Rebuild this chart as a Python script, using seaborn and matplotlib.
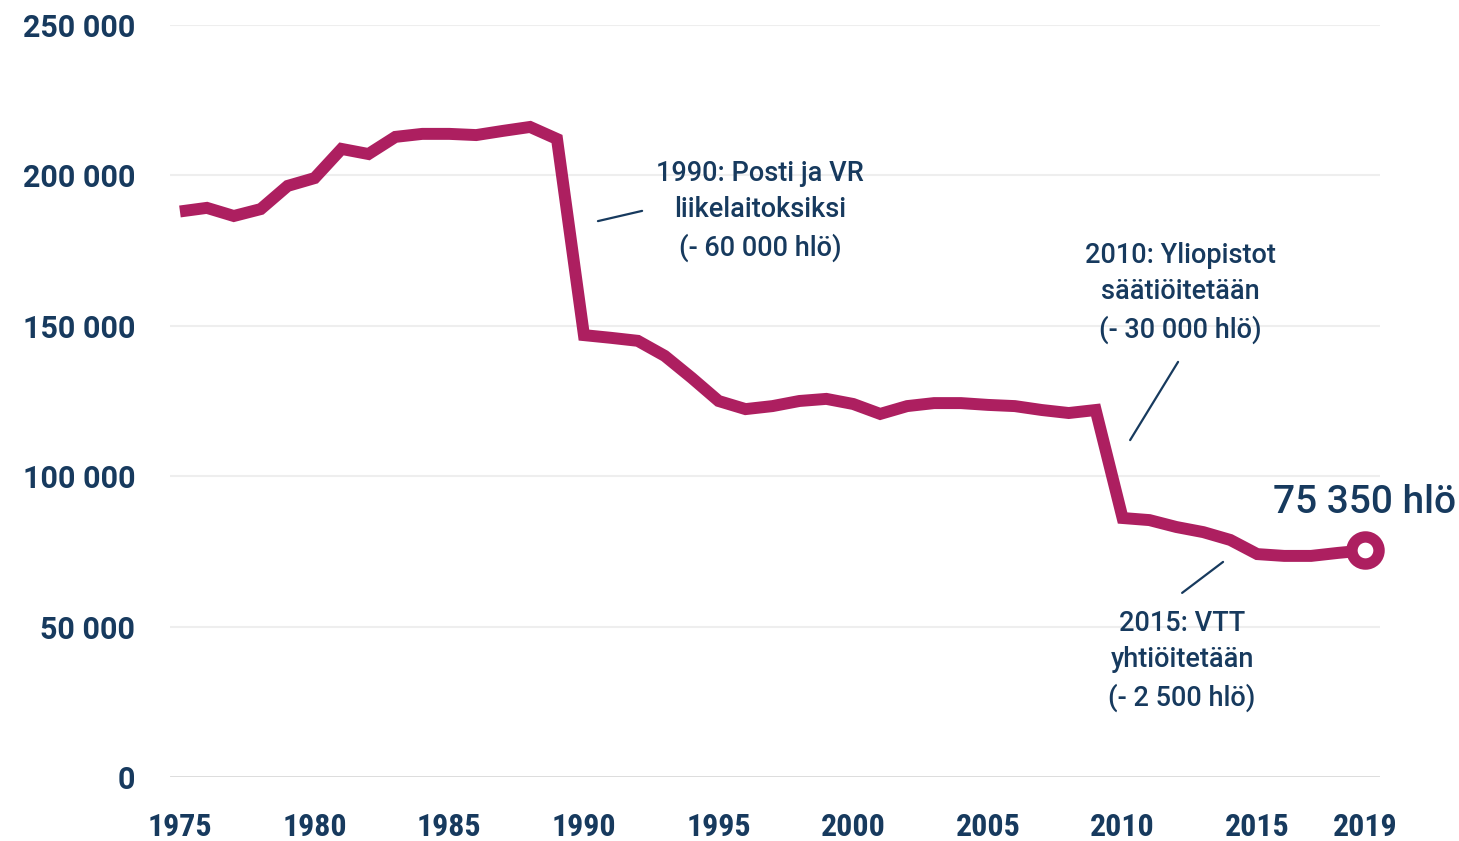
import matplotlib
matplotlib.use('Agg')
import matplotlib.pyplot as plt
import seaborn as sns
import pandas as pd

# Employment figures
years = list(range(1975, 2020))
employees = [
    188000, 189200, 186500, 188800, 196500, 199100, 208800, 207100, 212800, 213800,
    213800, 213400, 214800, 216100, 212100, 146900, 146000, 145000, 140000, 132700,
    125000, 122300, 123300, 125000, 125700, 124000, 120700, 123300, 124300, 124300,
    123700, 123300, 122000, 121000, 122000, 86100, 85400, 83100, 81400, 78800,
    74100, 73500, 73500, 74500, 75350,
]
x_ticks = [1975, 1980, 1985, 1990, 1995, 2000, 2005, 2010, 2015, 2019]
y_ticks = [0, 50000, 100000, 150000, 200000, 250000]
y_labels = ['0', '50 000', '100 000', '150 000', '200 000', '250 000']

# Event annotations: text, text position, leader line (start, end)
events = [
    ('1990: Posti ja VR\nliikelaitoksiksi\n(- 60 000 hlö)', (1996.54, 188200), (1990.52, 184800), (1992.16, 188200)),
    ('2010: Yliopistot\nsäätiöitetään\n(- 30 000 hlö)', (2012.13, 160900), (2010.28, 112000), (2012.06, 138000)),
    ('2015: VTT\nyhtiöitetään\n(- 2 500 hlö)', (2012.21, 38600), (2012.21, 61200), (2013.73, 71500)),
]
end_label = '75 350 hlö'

line_color = '#ad1f60'
text_color = '#173a5e'

df = pd.DataFrame({'year': years, 'employees': employees})

sns.set_theme(style='white')
plt.rcParams['font.family'] = ['Roboto', 'DejaVu Sans']

fig = plt.figure(figsize=(14.59, 8.41), dpi=100)
ax = fig.add_axes([0.1165, 0.0761, 0.8294, 0.8942])

sns.lineplot(data=df, x='year', y='employees', ax=ax, color=line_color,
             linewidth=8.6, solid_joinstyle='miter', solid_capstyle='butt')

# End marker on the last point
last = df.iloc[-1]
ax.plot([last['year']], [last['employees']], marker='o', markersize=19.5,
        markerfacecolor='white', markeredgecolor=line_color, markeredgewidth=8.2,
        clip_on=False, zorder=5)
ax.text(last['year'], last['employees'] + 16000, end_label, ha='center', va='center',
        fontsize=28, color=text_color, fontweight='medium')

ax.set_xlim(1974.63, 2019.56)
ax.set_ylim(0, 250000)

for yv in y_ticks[1:]:
    ax.axhline(yv, color='#eeeeee', linewidth=1.5, zorder=0)
ax.axhline(0, color='#d9d9d9', linewidth=2, zorder=0)

for s in ax.spines.values():
    s.set_visible(False)

ax.set_xticks(x_ticks)
ax.set_xticklabels([str(x) for x in x_ticks], fontsize=23, fontweight='bold',
                   color=text_color, family=['Liberation Sans Narrow', 'Roboto Condensed', 'DejaVu Sans'])
ax.set_yticks(y_ticks)
ax.set_yticklabels(y_labels, fontsize=22, fontweight='bold', color=text_color)
ax.tick_params(axis='x', length=0, pad=25)
ax.tick_params(axis='y', length=0, pad=25)
ax.set_xlabel('')
ax.set_ylabel('')

for text, pos, p0, p1 in events:
    ax.text(pos[0], pos[1], text, ha='center', va='center', fontsize=19.5,
            color=text_color, fontweight='medium', linespacing=1.45)
    ax.annotate('', xy=p0, xytext=p1,
                arrowprops=dict(arrowstyle='-', color=text_color, linewidth=1.6,
                                shrinkA=0, shrinkB=0))

fig.savefig('out.png', dpi=100)
